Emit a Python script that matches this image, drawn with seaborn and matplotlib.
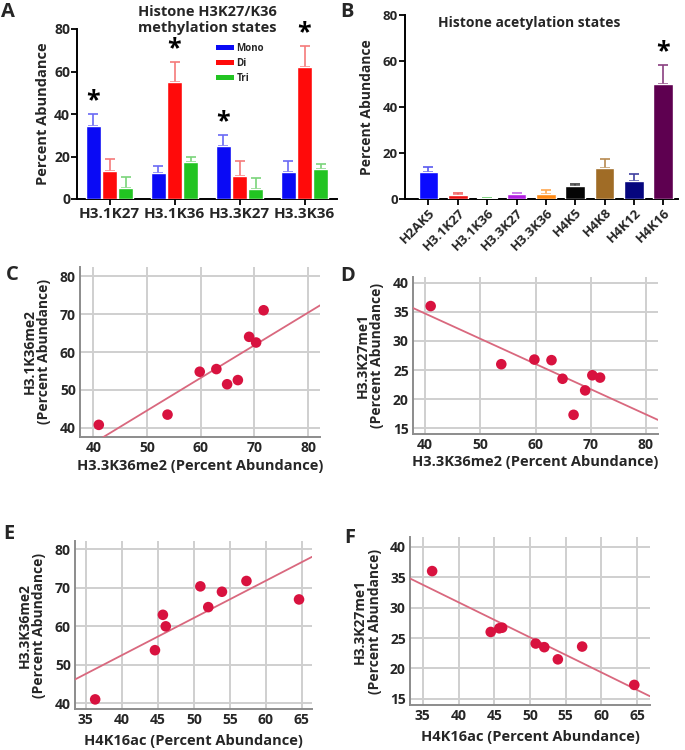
import numpy as np
import pandas as pd
import matplotlib
matplotlib.use("Agg")
import matplotlib.pyplot as plt
import seaborn as sns
from matplotlib.patches import Patch

sns.set_theme(style="white")
plt.rcParams['font.family'] = ['Open Sans', 'DejaVu Sans']
plt.rcParams['font.weight'] = 'bold'

# ---------------- Data ----------------
# Panel A
a_groups = ["H3.1K27", "H3.1K36", "H3.3K27", "H3.3K36"]
a_states = ["Mono", "Di", "Tri"]
a_mono = [34.5, 12.3, 25.0, 12.5]
a_di = [13.0, 55.0, 10.8, 62.2]
a_tri = [5.0, 17.2, 4.8, 14.3]
a_mono_err = [5.5, 3.0, 5.0, 5.5]
a_di_err = [6.0, 9.5, 7.2, 9.8]
a_tri_err = [5.5, 2.8, 5.0, 2.0]
a_colors = ["#0A0AF5", "#FF0A0A", "#22C422"]
a_err_colors = ["#6A6AF5", "#F57A7A", "#7AD47A"]
a_star = [(0, "Mono"), (1, "Di"), (2, "Mono"), (3, "Di")]

# Panel B
b_labels = ["H2AK5", "H3.1K27", "H3.1K36", "H3.3K27", "H3.3K36",
            "H4K5", "H4K8", "H4K12", "H4K16"]
b_values = [11.8, 1.7, 0.3, 2.0, 2.3, 5.8, 13.4, 7.7, 50.0]
b_errs = [2.2, 0.8, 0.2, 0.8, 1.7, 0.7, 4.1, 3.1, 8.3]
b_colors = ["#0A0AFF", "#E81010", "#1FB81F", "#B01FE0", "#FF8A14",
            "#050505", "#A06C26", "#06067E", "#5E0050"]
b_err_colors = ["#5A5AF0", "#F06060", "#60C860", "#C060E8", "#FFA850",
                "#404040", "#B88A50", "#4040A0", "#8A4080"]

# Scatter data
h33k36me2 = [41.0, 53.8, 59.8, 62.9, 64.9, 66.9, 69.0, 70.3, 71.7]
h31k36me2 = [40.8, 43.5, 54.8, 55.5, 51.5, 52.6, 64.0, 62.5, 71.0]
h33k27me1_d = [36.0, 26.0, 26.8, 26.7, 23.5, 17.3, 21.5, 24.1, 23.7]

h4k16ac = [36.3, 44.6, 45.7, 46.1, 50.9, 52.0, 53.9, 57.3, 64.6]
h33k36me2_e = [41.0, 53.8, 63.0, 60.0, 70.4, 65.0, 69.0, 71.8, 67.0]
h4k16ac_f = [36.3, 44.5, 45.7, 46.1, 50.8, 52.0, 53.9, 57.3, 64.6]
h33k27me1_f = [36.0, 26.0, 26.6, 26.7, 24.1, 23.5, 21.5, 23.6, 17.3]

# ---------------- Figure ----------------
fig = plt.figure(figsize=(6.85, 7.5), dpi=100)

def px_axes(l, r, t, b):
    W, H = 685, 750
    return fig.add_axes([l / W, (H - b) / H, (r - l) / W, (b - t) / H])

# ---- Panel A ----
axA = px_axes(77, 337, 29, 199)
dfA = pd.DataFrame({
    "group": np.repeat(a_groups, 3),
    "state": a_states * 4,
    "value": [v for trio in zip(a_mono, a_di, a_tri) for v in trio],
    "err": [v for trio in zip(a_mono_err, a_di_err, a_tri_err) for v in trio],
})
sns.barplot(data=dfA, x="group", y="value", hue="state", hue_order=a_states,
            order=a_groups, palette=a_colors, width=0.75, gap=0.06,
            errorbar=None, ax=axA, saturation=1, legend=False, zorder=3)
bars = [p for p in axA.patches]
for i, st in enumerate(a_states):
    for j, g in enumerate(a_groups):
        p = bars[i * len(a_groups) + j]
        row = dfA[(dfA.group == g) & (dfA.state == st)].iloc[0]
        xc = p.get_x() + p.get_width() / 2
        axA.errorbar(xc, row.value, yerr=[[0], [row.err]], fmt="none",
                     ecolor=a_err_colors[i], elinewidth=1.2, capsize=3.5,
                     capthick=1.2, zorder=2)
        if (j, st) in a_star:
            axA.text(xc, row.value + row.err + 0.5, "*", ha="center",
                     va="bottom", fontsize=18, fontweight="bold",
                     color="black")
axA.set_xlim(-0.5, 3.5)
axA.set_ylim(0, 80)
axA.set_yticks([0, 20, 40, 60, 80])
axA.set_xlabel("")
axA.set_ylabel("Percent Abundance", fontsize=10.5, fontweight="bold", labelpad=3)
axA.tick_params(axis="both", which="both", direction="out", length=4,
                width=1.3, color="black", bottom=True, left=True)
axA.tick_params(axis="x", labelsize=11, pad=2)
axA.tick_params(axis="y", labelsize=10, pad=1)
for lab in axA.get_xticklabels() + axA.get_yticklabels():
    lab.set_fontweight("bold")
sns.despine(ax=axA)
for s in ["left", "bottom"]:
    axA.spines[s].set_color("black")
    axA.spines[s].set_linewidth(1.4)
axA.set_title("Histone H3K27/K36\nmethylation states", fontsize=10.5,
              fontweight="bold", y=0.985, pad=0, linespacing=1.15)
handles = [Patch(facecolor=c, edgecolor="none") for c in a_colors]
axA.legend(handles, a_states, loc="upper left", bbox_to_anchor=(0.52, 0.94),
           frameon=False, handlelength=1.8, handleheight=0.5,
           labelspacing=0.4, handletextpad=0.3, borderaxespad=0,
           prop={"weight": "bold", "size": 7})

# ---- Panel B ----
axB = px_axes(405, 678, 15, 199)
dfB = pd.DataFrame({"mark": b_labels, "value": b_values, "err": b_errs})
sns.barplot(data=dfB, x="mark", y="value", hue="mark", order=b_labels,
            hue_order=b_labels, palette=b_colors, width=0.67, errorbar=None,
            ax=axB, saturation=1, legend=False, zorder=3)
for k, p in enumerate(axB.patches):
    xc = p.get_x() + p.get_width() / 2
    axB.errorbar(xc, b_values[k], yerr=[[0], [b_errs[k]]], fmt="none",
                 ecolor=b_err_colors[k], elinewidth=1.2, capsize=3.5,
                 capthick=1.2, zorder=2)
axB.text(8, b_values[8] + b_errs[8] + 0.5, "*", ha="center", va="bottom",
         fontsize=18, fontweight="bold", color="black")
axB.set_xlim(-0.8, 8.5)
axB.set_ylim(0, 80)
axB.set_yticks([0, 20, 40, 60, 80])
axB.set_xlabel("")
axB.set_ylabel("Percent Abundance", fontsize=10, fontweight="bold", labelpad=6)
axB.tick_params(axis="both", which="both", direction="out", length=4,
                width=1.3, color="black", bottom=True, left=True)
axB.tick_params(axis="x", labelsize=9.5, pad=1)
axB.tick_params(axis="y", labelsize=9.5, pad=1)
for lab in axB.get_xticklabels():
    lab.set_rotation(45)
    lab.set_ha("right")
    lab.set_rotation_mode("anchor")
    lab.set_fontweight("bold")
for lab in axB.get_yticklabels():
    lab.set_fontweight("bold")
sns.despine(ax=axB)
for s in ["left", "bottom"]:
    axB.spines[s].set_color("black")
    axB.spines[s].set_linewidth(1.4)
axB.text(0.455, 0.955, "Histone acetylation states", transform=axB.transAxes,
         ha="center", va="center", fontsize=10, fontweight="bold")

# ---- Scatter panels ----
pt_color = "#D8123F"
line_color = "#D9687E"

def scatter_panel(ax, x, y, xlim, ylim, xticks, yticks, xlabel, ylabel,
                  xlabel_pad):
    ax.set_xlim(*xlim)
    ax.set_ylim(*ylim)
    ax.set_axisbelow(True)
    ax.grid(True, color="#CFCFCF", linewidth=1.4)
    sns.regplot(x=np.array(x), y=np.array(y), ax=ax, ci=None, truncate=False,
                scatter_kws={"s": 58, "color": pt_color, "edgecolors": "none",
                             "alpha": 1, "zorder": 4},
                line_kws={"color": line_color, "linewidth": 1.3, "zorder": 3})
    ax.set_xlim(*xlim)
    ax.set_ylim(*ylim)
    ax.set_xticks(xticks)
    ax.set_yticks(yticks)
    ax.tick_params(axis="both", length=0, labelsize=10, pad=3)
    for lab in ax.get_xticklabels() + ax.get_yticklabels():
        lab.set_fontweight("bold")
    sns.despine(ax=ax)
    for s in ["left", "bottom"]:
        ax.spines[s].set_color("#8C8C8C")
        ax.spines[s].set_linewidth(1.4)
    ax.set_xlabel(xlabel, fontsize=10.5, fontweight="bold", labelpad=xlabel_pad)
    ax.set_ylabel(ylabel, fontsize=10, fontweight="bold", labelpad=6,
                  linespacing=1.1)

axC = px_axes(80, 320, 267, 437)
scatter_panel(axC, h33k36me2, h31k36me2, (37.5, 82.2), (37.6, 82.4),
              [40, 50, 60, 70, 80], [40, 50, 60, 70, 80],
              "H3.3K36me2 (Percent Abundance)",
              "H3.1K36me2\n(Percent Abundance)", 3)

axD = px_axes(413, 658, 277, 434)
scatter_panel(axD, h33k36me2, h33k27me1_d, (37.8, 82.2), (14.0, 41.0),
              [40, 50, 60, 70, 80], [15, 20, 25, 30, 35, 40],
              "H3.3K36me2 (Percent Abundance)",
              "H3.3K27me1\n(Percent Abundance)", 2)

axE = px_axes(75, 312, 541, 709)
scatter_panel(axE, h4k16ac, h33k36me2_e, (33.5, 66.4), (38.5, 82.2),
              [35, 40, 45, 50, 55, 60, 65], [40, 50, 60, 70, 80],
              "H4K16ac (Percent Abundance)",
              "H3.3K36me2\n(Percent Abundance)", 5)

axF = px_axes(410, 650, 537, 705)
scatter_panel(axF, h4k16ac_f, h33k27me1_f, (33.2, 66.8), (14.0, 41.6),
              [35, 40, 45, 50, 55, 60, 65], [15, 20, 25, 30, 35, 40],
              "H4K16ac (Percent Abundance)",
              "H3.3K27me1\n(Percent Abundance)", 5)

# Panel letters
for txt, x, y in [("A", 1, 12), ("B", 340, 12), ("C", 6, 275),
                  ("D", 340, 276), ("E", 3, 534), ("F", 344, 538)]:
    fig.text(x / 685, 1 - y / 750, txt, fontsize=14.5, fontweight="bold",
             ha="left", va="center")

fig.savefig("out.png", dpi=100)
